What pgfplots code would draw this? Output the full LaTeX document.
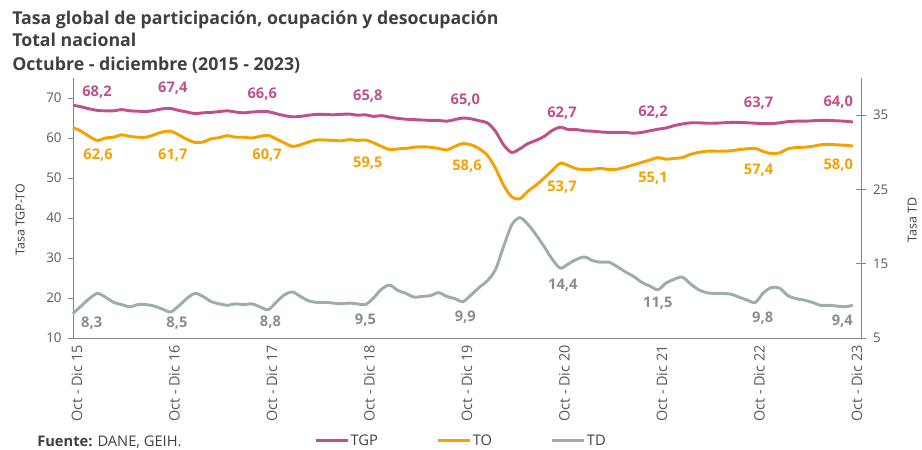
\documentclass[border=0pt]{standalone}
\usepackage{pgfplots}
\usepackage{pgfplotstable}
\pgfplotsset{compat=1.18}
\usepackage{fontspec}
\setmainfont{Open Sans}
\definecolor{tgp}{RGB}{192,80,139}
\definecolor{to}{RGB}{245,162,0}
\definecolor{td}{RGB}{155,174,171}
\definecolor{tdlab}{RGB}{140,140,140}
\definecolor{txt}{RGB}{64,64,64}
\definecolor{tick}{RGB}{89,89,89}
\definecolor{axl}{RGB}{134,134,134}

\pgfplotstableread{
i tgp to td
0 68.2 62.6 8.3
1 67.8 61.7 9.3
2 67.3 60.4 10.3
3 66.9 59.4 11.0
4 66.8 60.0 10.5
5 66.8 60.2 9.8
6 67.1 60.8 9.5
7 66.8 60.4 9.2
8 66.7 60.2 9.5
9 66.6 60.2 9.5
10 66.9 60.8 9.3
11 67.3 61.5 8.9
12 67.4 61.7 8.5
13 66.9 60.8 9.3
14 66.5 59.7 10.3
15 66.1 58.9 11.0
16 66.3 59.0 10.6
17 66.4 59.8 9.9
18 66.6 60.1 9.6
19 66.8 60.6 9.4
20 66.5 60.2 9.6
21 66.3 60.2 9.5
22 66.5 60.0 9.6
23 66.6 60.4 9.2
24 66.6 60.7 8.8
25 66.1 59.8 9.8
26 65.6 58.8 10.8
27 65.3 57.9 11.2
28 65.4 58.3 10.6
29 65.7 59.0 10.0
30 65.9 59.5 9.8
31 65.9 59.5 9.8
32 65.8 59.4 9.7
33 65.9 59.3 9.6
34 66.0 59.6 9.7
35 65.7 59.4 9.6
36 65.8 59.5 9.5
37 65.4 58.8 10.4
38 65.6 57.9 11.6
39 65.2 57.1 12.1
40 64.9 57.3 11.4
41 64.7 57.4 11.0
42 64.6 57.7 10.5
43 64.5 57.8 10.6
44 64.4 57.7 10.7
45 64.4 57.4 11.1
46 64.2 57.0 10.6
47 64.6 57.9 10.3
48 65.0 58.6 9.9
49 64.8 58.3 10.8
50 64.3 57.3 11.8
51 63.8 55.7 12.7
52 61.7 52.5 14.2
53 58.3 48.2 17.3
54 56.4 45.3 20.2
55 57.3 44.8 21.2
56 58.6 46.7 20.3
57 59.4 48.2 18.9
58 60.4 50.0 17.3
59 61.9 51.9 15.6
60 62.7 53.7 14.4
61 62.1 53.1 15.0
62 62.1 52.3 15.6
63 61.8 52.1 15.9
64 61.7 52.2 15.4
65 61.5 52.4 15.2
66 61.4 52.1 15.2
67 61.4 52.2 14.6
68 61.4 52.7 13.9
69 61.2 53.3 13.3
70 61.4 53.9 12.5
71 61.8 54.5 12.0
72 62.2 55.1 11.5
73 62.5 54.7 12.4
74 63.1 54.9 12.9
75 63.5 55.1 13.2
76 63.8 55.9 12.3
77 63.8 56.4 11.5
78 63.7 56.7 11.1
79 63.7 56.7 11.0
80 63.8 56.7 11.0
81 63.9 56.8 10.9
82 63.9 57.1 10.5
83 63.8 57.3 10.1
84 63.7 57.4 9.8
85 63.6 56.6 11.1
86 63.6 56.1 11.8
87 63.8 56.3 11.7
88 64.1 57.3 10.7
89 64.2 57.6 10.3
90 64.2 57.7 10.1
91 64.3 57.9 9.8
92 64.4 58.3 9.4
93 64.4 58.4 9.4
94 64.3 58.3 9.3
95 64.2 58.2 9.2
96 64.0 58.0 9.4
}\datatable

% label positions (x index, y in axis units, text)
\pgfplotstableread{
x y lab
2.95 71.5 68,2
12.3 72.5 67,4
23.3 71.0 66,6
36.3 70.5 65,8
48.3 69.5 65,0
60.2 66.25 62,7
71.4 66.5 62,2
84.4 68.75 63,7
94.2 69.0 64,0
}\tgplab
\pgfplotstableread{
x y lab
3.1 55.75 62,6
12.3 55.75 61,7
23.9 55.75 60,7
36.3 53.75 59,5
48.5 53.0 58,6
60.2 47.75 53,7
71.4 50.0 55,1
84.4 52.0 57,4
94.2 53.25 58,0
}\tolab
\pgfplotstableread{
x y lab
2.3 7.02 8,3
12.8 7.02 8,5
24.3 7.15 8,8
36.0 7.42 9,5
48.3 7.83 9,9
60.3 12.13 14,4
72.0 9.71 11,5
84.9 7.69 9,8
94.7 7.29 9,4
}\tdlab

\begin{document}
\begin{tikzpicture}
\useasboundingbox (-54.75pt,-84pt) rectangle (636.75pt,253.5pt);
\pgfplotsset{
  common/.style={
    scale only axis, width=591pt, height=195pt,
    xmin=0, xmax=97,
    clip=false,
    /pgf/number format/assume math mode=true,
    axis line style={axl, line width=0.6pt},
    tick style={axl, line width=0.6pt},
    ticklabel style={font=\fontsize{10}{12}\selectfont, text=tick},
  },
}
\begin{axis}[common,
  at={(0,0)}, anchor=south west,
  ymin=10, ymax=75,
  axis y line*=left, axis x line*=bottom,
  ytick={10,20,...,70},
  tick align=outside,
  major tick length=4pt,
  xtick={0,12,...,96},
  xticklabels={Oct - Dic 15,Oct - Dic 16,Oct - Dic 17,Oct - Dic 18,Oct - Dic 19,Oct - Dic 20,Oct - Dic 21,Oct - Dic 22,Oct - Dic 23},
  x tick style={draw=none},
  minor xtick={0,8,...,96},
  minor x tick style={axl, line width=0.6pt},
  minor tick length=4.5pt,
  xticklabel style={rotate=90, anchor=east, xshift=2pt, yshift=-3pt, font=\fontsize{10.8}{12}\selectfont},
  yticklabel style={xshift=-1pt},
  ylabel={Tasa TGP-TO},
  ylabel style={at={(axis description cs:-0.067,0.455)}, anchor=center, font=\fontsize{9.3}{11}\selectfont, text=txt},
  legend style={at={(axis description cs:0.492,-0.396)}, anchor=center, draw=none, fill=none,
    font=\fontsize{11}{13}\selectfont, text=txt, legend columns=3,
    /tikz/every even column/.append style={column sep=43pt},
    nodes={inner xsep=1pt}},
  legend image code/.code={\draw[#1, line width=2.2pt] (0pt,0pt) -- (24pt,0pt);},
]
\addplot[tgp, line width=2.2pt, smooth, no markers] table[x=i, y=tgp] {\datatable};
\addlegendentry{TGP}
\addplot[to, line width=2.2pt, smooth, no markers] table[x=i, y=to] {\datatable};
\addlegendentry{TO}
\addlegendimage{td, line width=2.2pt}
\addlegendentry{TD}
\addplot[draw=none, no markers, nodes near coords, point meta=explicit symbolic,
  every node near coord/.append style={anchor=center, text=tgp, font=\bfseries\fontsize{11}{13}\selectfont}]
  table[x=x, y=y, meta=lab] {\tgplab};
\addplot[draw=none, no markers, nodes near coords, point meta=explicit symbolic,
  every node near coord/.append style={anchor=center, text=to, font=\bfseries\fontsize{11}{13}\selectfont}]
  table[x=x, y=y, meta=lab] {\tolab};
\end{axis}
\begin{axis}[common,
  at={(0,0)}, anchor=south west,
  ymin=5, ymax=40,
  axis y line*=right, axis x line=none,
  ytick={5,15,25,35},
  tick align=center,
  major tick length=7pt,
  yticklabel style={xshift=2pt},
  ylabel={Tasa TD},
  ylabel style={at={(axis description cs:1.065,0.455)}, anchor=center, font=\fontsize{9.3}{11}\selectfont, text=txt},
]
\addplot[td, line width=2.2pt, smooth, no markers] table[x=i, y=td] {\datatable};
\addplot[draw=none, no markers, nodes near coords, point meta=explicit symbolic,
  every node near coord/.append style={anchor=center, text=tdlab, font=\bfseries\fontsize{11}{13}\selectfont}]
  table[x=x, y=y, meta=lab] {\tdlab};
\end{axis}
\node[anchor=base west, text=txt, font=\bfseries\fontsize{13.3}{16}\selectfont, inner sep=0pt] at (-45.75pt,234.75pt) {Tasa global de participación, ocupación y desocupación};
\node[anchor=base west, text=txt, font=\bfseries\fontsize{13.3}{16}\selectfont, inner sep=0pt] at (-45.75pt,218.5pt) {Total nacional};
\node[anchor=base west, text=txt, font=\bfseries\fontsize{13.3}{16}\selectfont, inner sep=0pt] at (-45.75pt,200.5pt) {Octubre - diciembre (2015 - 2023)};
\node[anchor=west, text=txt, font=\fontsize{11}{13}\selectfont, inner sep=0pt] at (-27pt,-78pt) {\textbf{Fuente:} DANE, GEIH.};
\end{tikzpicture}
\end{document}
